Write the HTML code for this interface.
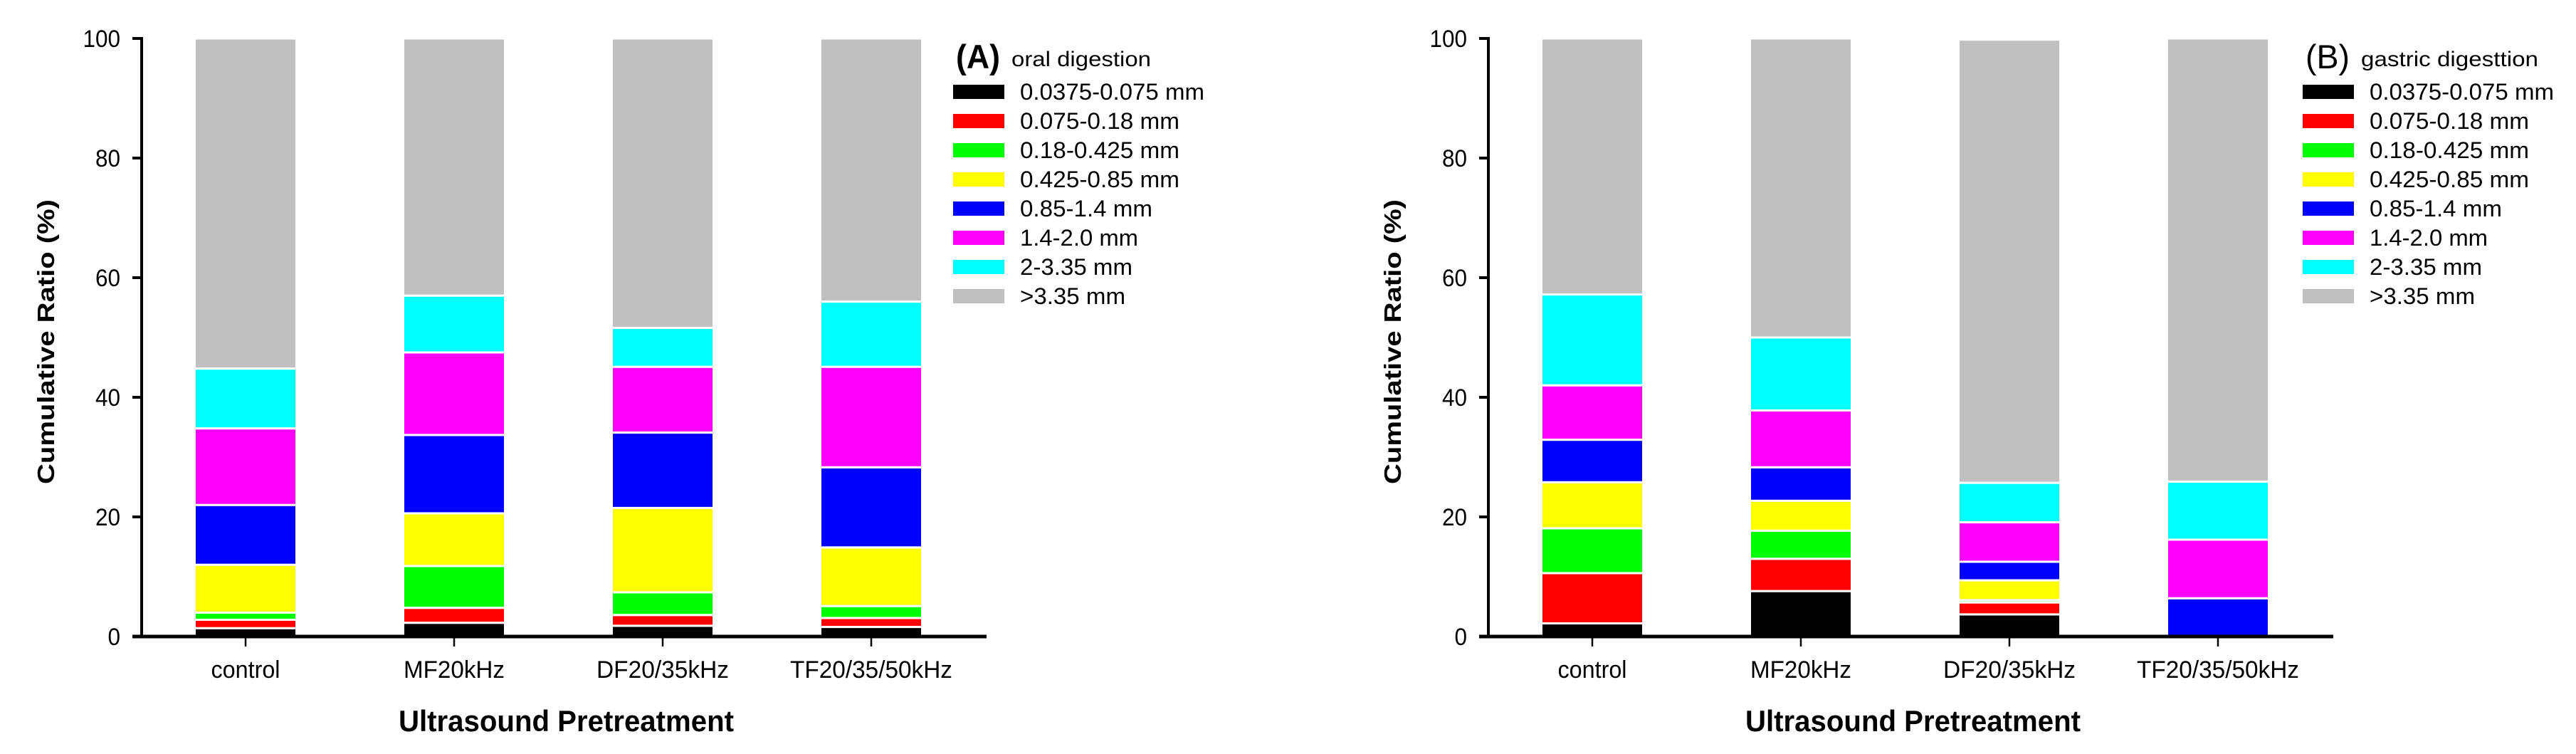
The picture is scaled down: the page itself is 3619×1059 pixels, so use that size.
<!DOCTYPE html>
<html><head><meta charset="utf-8"><style>
html,body{margin:0;padding:0;background:#fff;}
svg{display:block;}
text{font-family:"Liberation Sans Narrow","Liberation Sans",sans-serif;fill:#000;}
</style></head><body>
<svg id="chart" width="3619" height="1059" viewBox="0 0 3619 1059" xmlns="http://www.w3.org/2000/svg"></svg>
<script>
const categories = ["control","MF20kHz","DF20/35kHz","TF20/35/50kHz"];
const categoryWidths = [97,142,186,228];
const seriesNames = ["0.0375-0.075 mm","0.075-0.18 mm","0.18-0.425 mm","0.425-0.85 mm","0.85-1.4 mm","1.4-2.0 mm","2-3.35 mm",">3.35 mm"];
const seriesColors = ["#000000","#ff0000","#00ff00","#ffff00","#0000ff","#ff00ff","#00ffff","#c0c0c0"];
const legendWidths = [259,224,224,224,186,166,158,148];
const yTicks = [0,20,40,60,80,100];
// panel A: oral digestion, per size class, values per category
const oralBlack = [1.4,2.3,1.8,1.6];
const oralRed = [1.4,2.5,1.8,1.5];
const oralGreen = [1.2,7.0,3.8,2.0];
const oralYellow = [8.0,8.8,14.1,9.8];
const oralBlue = [10.0,13.1,12.6,13.4];
const oralMagenta = [12.8,13.8,11.0,16.8];
const oralCyan = [10.0,9.5,6.5,10.9];
const oralGray = [55.2,43.0,48.4,44.0];
// panel B: gastric digestion
const gastBlack = [2.2,7.6,3.7,0];
const gastRed = [8.4,5.4,2.0,0];
const gastGreen = [7.5,4.7,0.4,0];
const gastYellow = [7.7,5.0,3.3,0];
const gastBlue = [7.1,5.6,3.1,6.4];
const gastMagenta = [9.1,9.5,6.6,9.8];
const gastCyan = [15.2,12.2,6.6,9.7];
const gastGray = [42.8,50.0,74.1,74.1];

const oralSeries = [oralBlack,oralRed,oralGreen,oralYellow,oralBlue,oralMagenta,oralCyan,oralGray];
const gastSeries = [gastBlack,gastRed,gastGreen,gastYellow,gastBlue,gastMagenta,gastCyan,gastGray];

const NS = "http://www.w3.org/2000/svg";
const svg = document.getElementById("chart");
function mk(tag, attrs, parent, txt){
  const e = document.createElementNS(NS, tag);
  for (const k in attrs) e.setAttribute(k, attrs[k]);
  if (txt !== undefined) e.textContent = txt;
  (parent||svg).appendChild(e);
  return e;
}
const Y0 = 894, Y100 = 54;
function yScale(v){ return Y0 - (Y0 - Y100) * v / 100; }

function panel(ox, series, key, letter, subtitle, subW, letterBold){
  const g = mk("g", {});
  
  
  const axX = 199 + ox;
  function xScale(i){ return 345 + ox + i * 293; }
  const bw = 143;
  categories.forEach((c, i) => {
    let cum = 0;
    series.forEach((arr, s) => {
      const v = arr[i];
      if (v <= 0) { return; }
      const y1 = yScale(cum + v), y2 = yScale(cum);
      const r = mk("rect", {x: xScale(i) - bw/2, y: y1, width: bw, height: Math.max(0, y2 - y1), fill: seriesColors[s], stroke: "#fff", "stroke-width": 3}, g);
      
      
      cum += v;
    });
  });
  const ya = mk("line", {x1: axX, y1: Y100 - 2, x2: axX, y2: Y0 + 2, stroke: "#000", "stroke-width": 4}, g);
  
  
  const xa = mk("line", {x1: axX - 13, y1: Y0, x2: 1386 + ox, y2: Y0, stroke: "#000", "stroke-width": 5}, g);
  
  
  yTicks.forEach(t => {
    const y = yScale(t);
    const tk = mk("line", {x1: axX - 13, y1: y, x2: axX, y2: y, stroke: "#000", "stroke-width": 4}, g);
    
    
    const s = String(t);
    const lb = mk("text", {x: axX - 30, y: y + 12, "text-anchor": "end", "font-size": 34, textLength: s.length * 17.5, lengthAdjust: "spacingAndGlyphs"}, g, s);
    
    
  });
  categories.forEach((c, i) => {
    const x = xScale(i);
    const tk = mk("line", {x1: x, y1: Y0, x2: x, y2: Y0 + 14, stroke: "#000", "stroke-width": 2.5}, g);
    
    
    const lb = mk("text", {x: x - categoryWidths[i]/2, y: 952, "font-size": 34, textLength: categoryWidths[i], lengthAdjust: "spacingAndGlyphs"}, g, c);
    
    
  });
  const xt = mk("text", {x: 795 + ox - 235, y: 1027, "font-size": 42, "font-weight": "bold", textLength: 471, lengthAdjust: "spacingAndGlyphs"}, g, "Ultrasound Pretreatment");
  
  
  const yt = mk("text", {x: 0, y: 0, "font-size": 33, "font-weight": "bold", "font-family": "Liberation Sans, sans-serif", textLength: 400, lengthAdjust: "spacingAndGlyphs", transform: "translate(" + (76 + ox) + ",680) rotate(-90)"}, g, "Cumulative Ratio (%)");
  
  
  const lx = 1339 + (key === "b" ? 1896 : 0);
  const lt = mk("text", {x: lx + 4, y: 96, "font-size": 47, "font-weight": letterBold ? "bold" : "normal", textLength: 62, lengthAdjust: "spacingAndGlyphs"}, g, letter);
  
  
  const ls = mk("text", {x: lx + 82, y: 93, "font-size": 30, textLength: subW, lengthAdjust: "spacingAndGlyphs"}, g, subtitle);
  
  
  seriesNames.forEach((n, s) => {
    const yy = 119 + s * 41;
    const sw = mk("rect", {x: lx, y: yy, width: 72, height: 20, fill: seriesColors[s]}, g);
    
    
    const tx = mk("text", {x: lx + 94, y: yy + 21, "font-size": 32, textLength: legendWidths[s], lengthAdjust: "spacingAndGlyphs"}, g, n);
    
    
  });
}
panel(0, oralSeries, "a", "(A)", "oral digestion", 196, true);
panel(1892, gastSeries, "b", "(B)", "gastric digesttion", 249, false);
</script>
</body></html>
